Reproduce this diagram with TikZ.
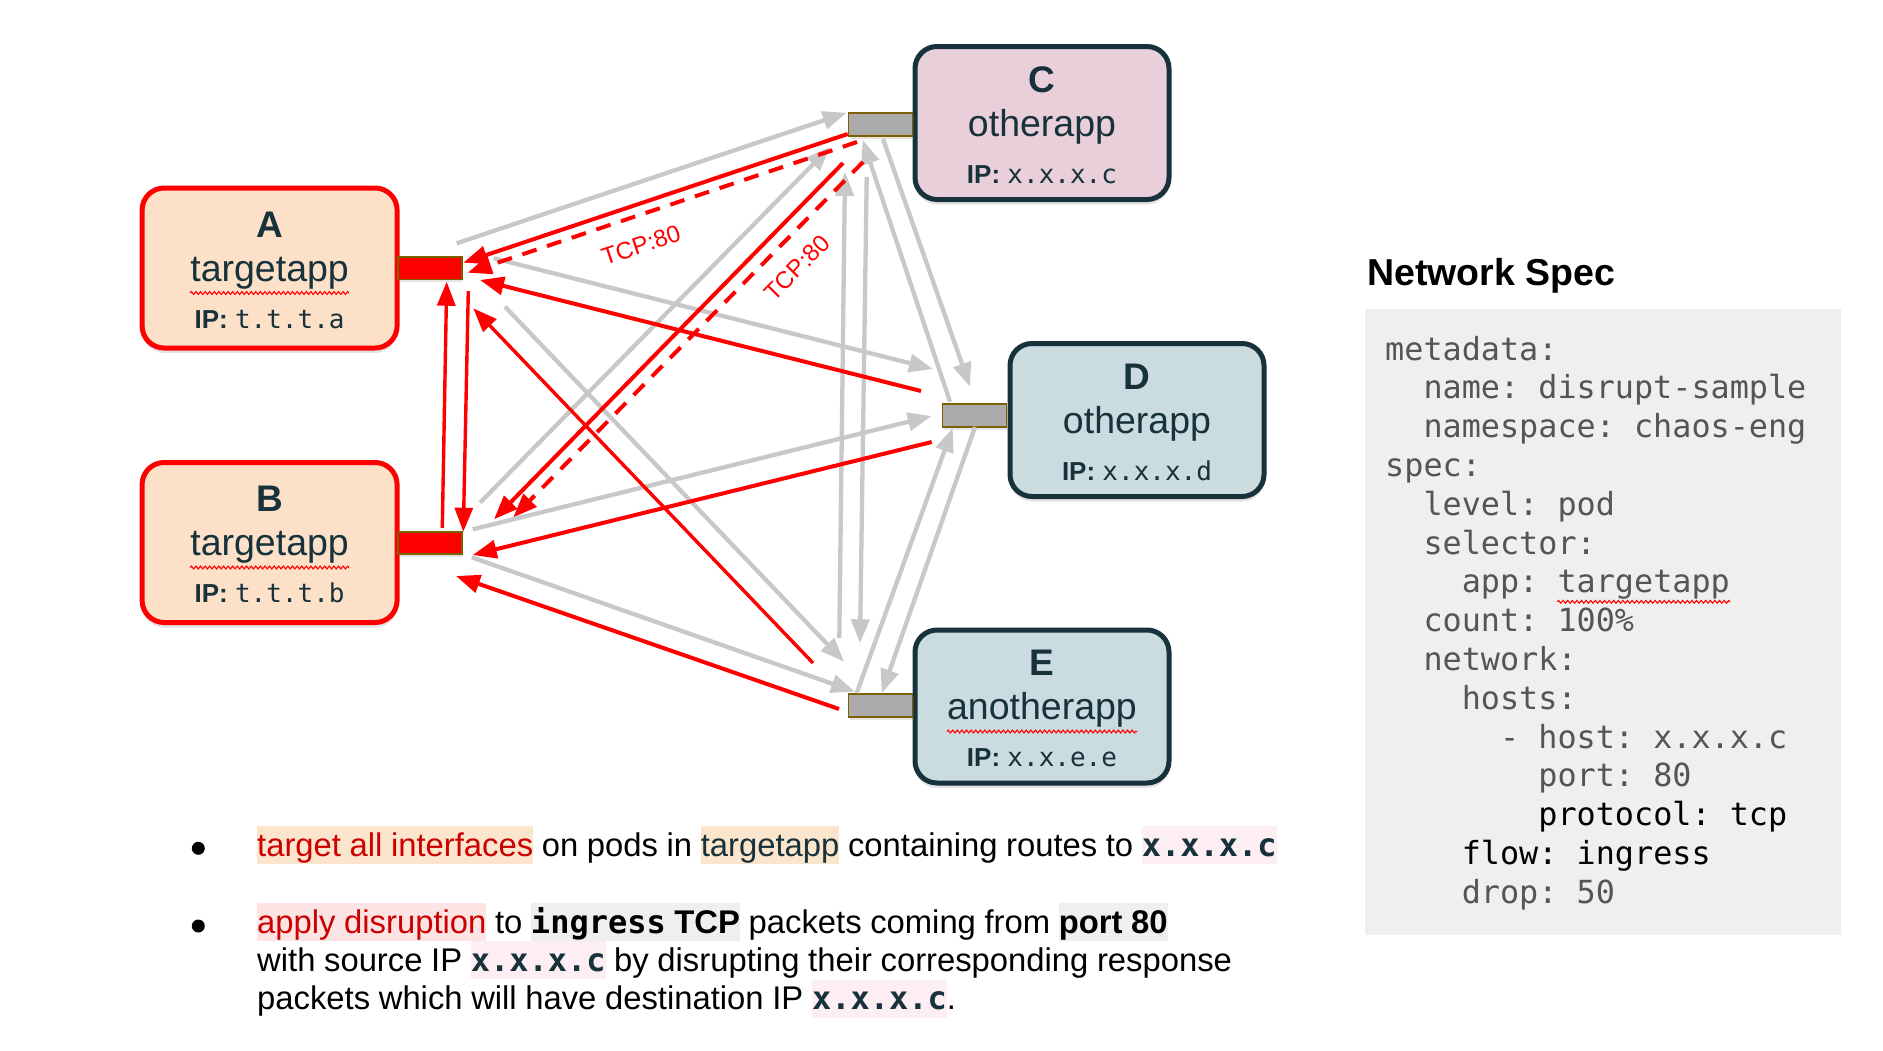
\documentclass[tikz,border=0pt]{standalone}
\usepackage{fontspec}
\setmainfont{Liberation Sans}
\newfontfamily\monof{DejaVu Sans Mono}
\usetikzlibrary{arrows.meta,shadows,decorations.pathmorphing}
\frenchspacing
\definecolor{peach}{HTML}{FCE0C8}
\definecolor{pinkbox}{HTML}{E8CFDA}
\definecolor{bluebox}{HTML}{CBDCE0}
\definecolor{darkteal}{HTML}{17323B}
\definecolor{portgray}{HTML}{ABABAB}
\definecolor{portedge}{HTML}{7F6000}
\definecolor{arrgray}{HTML}{C8C8C8}
\definecolor{codebg}{HTML}{EFEFEF}
\definecolor{codegray}{HTML}{555555}
\definecolor{hlpeach}{HTML}{FCE5CD}
\definecolor{hlpink}{HTML}{FCE4E4}
\definecolor{hlpinklight}{HTML}{FDEEF3}
\definecolor{hlgray}{HTML}{EFEFEF}
\definecolor{txtred}{HTML}{CC0000}
\newcommand\hlbox[2]{{\setlength{\fboxsep}{0pt}\colorbox{#1}{\rule[-8pt]{0pt}{38pt}#2}}}
\newcommand\monobold[1]{{\monof\bfseries\fontsize{32}{38}\selectfont #1}}
\newcommand\btfont{\fontsize{32.8}{38}\selectfont\spaceskip=8.6pt\relax}
\begin{document}
\begin{tikzpicture}[x=1pt,y=-1pt,
  podbox/.style={draw, line width=5pt, rounded corners=22pt, inner sep=0pt,
    drop shadow={opacity=0.22, shadow xshift=0pt, shadow yshift=-5pt}},
  tgtbox/.style={podbox, draw=red, fill=peach, minimum width=255pt, minimum height=160pt},
  othbox/.style={podbox, draw=darkteal, fill=#1, minimum width=254pt, minimum height=153pt},
  portbox/.style={draw=portedge, line width=1.7pt, fill=#1, minimum width=64pt, minimum height=22.5pt,
    inner sep=0pt, outer sep=0pt, drop shadow={opacity=0.2, shadow xshift=1pt, shadow yshift=-3pt}},
  lettxt/.style={anchor=base, inner sep=0pt, text=darkteal, font=\fontsize{37}{40}\selectfont\bfseries},
  apptxt/.style={anchor=base, inner sep=0pt, text=darkteal, font=\fontsize{37.5}{42}\selectfont},
  iptxt/.style={anchor=base, inner sep=0pt, text=darkteal, font=\fontsize{26}{30}\selectfont},
  wavy/.style={draw=red, line width=1.1pt, decorate, decoration={zigzag, amplitude=1.4pt, segment length=4.6pt}},
  garr/.style={draw=arrgray, line width=4.3pt, -{Triangle[length=24pt,width=18pt]}},
  rarr/.style={draw=red, line width=4pt, -{Triangle[length=24pt,width=18pt]}},
  rthin/.style={rarr, line width=3.4pt},
  rdash/.style={rarr, dash pattern=on 15pt off 11pt},
  tcplbl/.style={text=red, inner sep=0pt, font=\fontsize{24}{26}\selectfont},
  bt/.style={anchor=base west, inner sep=0pt, text=black, font={\btfont}},
  code/.style={anchor=base west, inner sep=0pt, text=codegray, font=\monof\fontsize{31.8}{38}\selectfont},
  bullet/.style={circle, fill=black, inner sep=0pt, minimum size=13pt}
]
\useasboundingbox (0,0) rectangle (1883,1050);
\fill[white] (0,0) rectangle (1883,1050);

% ---- pod boxes ----
\node[tgtbox] (A) at (269.6,268) {};
\node[tgtbox] (B) at (269.6,542.5) {};
\node[othbox=pinkbox] (C) at (1042,123) {};
\node[othbox=bluebox] (D) at (1137,420) {};
\node[othbox=bluebox] (E) at (1042,706.5) {};

% ---- box texts ----
\node[lettxt] (Al) at ([yshift=31pt]A.center) {A};
\node[apptxt] (Aa) at ([yshift=-13pt]A.center) {targetapp};
\node[iptxt] (Ai) at ([yshift=-60pt]A.center) {{\bfseries IP:} {\monof t.t.t.a}};
\node[lettxt] (Bl) at ([yshift=31pt]B.center) {B};
\node[apptxt] (Ba) at ([yshift=-13pt]B.center) {targetapp};
\node[iptxt] (Bi) at ([yshift=-60pt]B.center) {{\bfseries IP:} {\monof t.t.t.b}};
\node[lettxt] (Cl) at ([yshift=31pt]C.center) {C};
\node[apptxt] (Ca) at ([yshift=-13pt]C.center) {otherapp};
\node[iptxt] (Ci) at ([yshift=-60pt]C.center) {{\bfseries IP:} {\monof x.x.x.c}};
\node[lettxt] (Dl) at ([yshift=31pt]D.center) {D};
\node[apptxt] (Da) at ([yshift=-13pt]D.center) {otherapp};
\node[iptxt] (Di) at ([yshift=-60pt]D.center) {{\bfseries IP:} {\monof x.x.x.d}};
\node[lettxt] (El) at ([yshift=31pt]E.center) {E};
\node[apptxt] (Ea) at ([yshift=-13pt]E.center) {anotherapp};
\node[iptxt] (Ei) at ([yshift=-60pt]E.center) {{\bfseries IP:} {\monof x.x.e.e}};
\draw[wavy] ([yshift=-12pt]Aa.base west) -- ([yshift=-12pt]Aa.base east);
\draw[wavy] ([yshift=-12pt]Ba.base west) -- ([yshift=-12pt]Ba.base east);
\draw[wavy] ([yshift=-12pt]Ea.base west) -- ([yshift=-12pt]Ea.base east);

% ---- ports ----
\node[portbox=red] (pA) at (430,268.2) {};
\node[portbox=red] (pB) at (430,543) {};
\node[portbox=portgray] (pC) at (880.5,124.5) {};
\node[portbox=portgray] (pD) at (974.5,415.5) {};
\node[portbox=portgray] (pE) at (880.5,705.5) {};

% ---- gray connectors ----
\draw[garr] ([shift={(26.7,-24.9)}]pA.center) -- ([shift={(-33.8,-11.8)}]pC.center);
\draw[garr] ([shift={(64,-9.9)}]pA.center) -- ([shift={(-41.5,-46.5)}]pD.center);
\draw[garr] ([shift={(75,38.5)}]pA.center) -- ([shift={(-36.5,-43.8)}]pE.center);
\draw[garr] ([shift={(50,-40.3)}]pB.center) -- ([shift={(-50.5,22.5)}]pC.center);
\draw[garr] ([shift={(42.7,-13.7)}]pB.center) -- ([shift={(-42.8,0.5)}]pD.center);
\draw[garr] ([shift={(41.7,14.3)}]pB.center) -- ([shift={(-25.5,-13.8)}]pE.center);
\draw[garr] ([shift={(2.5,14.5)}]pC.center) -- ([shift={(-4.5,-28.8)}]pD.center);
\draw[garr] ([shift={(-24.5,-13.8)}]pD.center) -- ([shift={(-17.8,15.5)}]pC.center);
\draw[garr] ([shift={(-13.8,52.5)}]pC.center) -- ([shift={(-20.5,-62.2)}]pE.center);
\draw[garr] ([shift={(-41.2,-67.5)}]pE.center) -- ([shift={(-35.5,47.5)}]pC.center);
\draw[garr] ([shift={(0.5,11.5)}]pD.center) -- ([shift={(1.2,-12.2)}]pE.center);
\draw[garr] ([shift={(-23.8,-12.5)}]pE.center) -- ([shift={(-21.8,12.5)}]pD.center);

% ---- red connectors ----
\draw[rarr] ([shift={(-32.8,9.5)}]pC.center) -- ([shift={(33.3,-5.5)}]pA.center);
\draw[rdash] ([shift={(-23.5,17.5)}]pC.center) -- ([shift={(37.7,4.5)}]pA.center);
\draw[rarr] ([shift={(-37.5,38.5)}]pC.center) -- ([shift={(64,-23.7)}]pB.center);
\draw[rdash] ([shift={(-17.5,37.5)}]pC.center) -- ([shift={(83.3,-25.7)}]pB.center);
\draw[rarr] ([shift={(-53.5,-24.5)}]pD.center) -- ([shift={(50,11.8)}]pA.center);
\draw[rarr] ([shift={(-42.8,26.5)}]pD.center) -- ([shift={(42.7,12)}]pB.center);
\draw[rthin] ([shift={(-67.5,-42.5)}]pE.center) -- ([shift={(43.3,40.1)}]pA.center);
\draw[rarr] ([shift={(-41.5,3.5)}]pE.center) -- ([shift={(26,33)}]pB.center);
\draw[rthin] ([shift={(12.3,-15)}]pB.center) -- ([shift={(16.7,13.5)}]pA.center);
\draw[rthin] ([shift={(38.3,22.8)}]pA.center) -- ([shift={(33.3,-11.3)}]pB.center);

\node[tcplbl, rotate=18.5] (t1) at (641,245) {TCP:80};
\node[tcplbl, rotate=45.5] (t2) at (797,268) {TCP:80};

% ---- bullets ----
\node[bullet] (d1) at (198.3,848.3) {};
\node[bullet] (d2) at (198.3,926) {};
\node[bt] (b1) at (257,856) {\hlbox{hlpeach}{\color{txtred}target all interfaces} on pods in \hlbox{hlpeach}{\color{darkteal}targetapp} containing routes to \hlbox{hlpinklight}{\color{darkteal}\monobold{x.x.x.c}}};
\node[bt] (b2) at (257,933) {\hlbox{hlpink}{\color{txtred}apply disruption} to \hlbox{hlgray}{\monobold{ingress} \textbf{TCP}} packets coming from \hlbox{hlgray}{\textbf{port 80}}};
\node[bt] (b3) at (257,971.3) {with source IP \hlbox{hlpinklight}{\color{darkteal}\monobold{x.x.x.c}} by disrupting their corresponding response};
\node[bt] (b4) at (257,1009.6) {packets which will have destination IP \hlbox{hlpinklight}{\color{darkteal}\monobold{x.x.x.c}}.};

% ---- network spec ----
\node[anchor=base west, inner sep=0pt, font=\bfseries\fontsize{37.5}{42}\selectfont] (title) at (1367,285) {Network Spec};
\node[fill=codebg, inner sep=0pt, minimum width=476pt, minimum height=626pt] (spec) at (1603,622) {};
\node[code] (c1) at (1385,360) {metadata:};
\node[code] (c2) at (1385+2*19.15,398.8) {name: disrupt-sample};
\node[code] (c3) at (1385+2*19.15,437.6) {namespace: chaos-eng};
\node[code] (c4) at (1385,476.4) {spec:};
\node[code] (c5) at (1385+2*19.15,515.2) {level: pod};
\node[code] (c6) at (1385+2*19.15,554) {selector:};
\node[code] (c7) at (1385+4*19.15,592.8) {app: targetapp};
\node[code] (c8) at (1385+2*19.15,631.6) {count: 100\%};
\node[code] (c9) at (1385+2*19.15,670.4) {network:};
\node[code] (c10) at (1385+4*19.15,709.2) {hosts:};
\node[code] (c11) at (1385+6*19.15,748) {- host: x.x.x.c};
\node[code] (c12) at (1385+8*19.15,786.8) {port: 80};
\node[code, text=black] (c13) at (1385+8*19.15,825.6) {protocol: tcp};
\node[code, text=black] (c14) at (1385+4*19.15,864.4) {flow: ingress};
\node[code] (c15) at (1385+4*19.15,903.2) {drop: 50};
\draw[wavy] ([shift={(5*19.15,9)}]c7.base west) -- ([shift={(0,9)}]c7.base east);
\end{tikzpicture}
\end{document}
